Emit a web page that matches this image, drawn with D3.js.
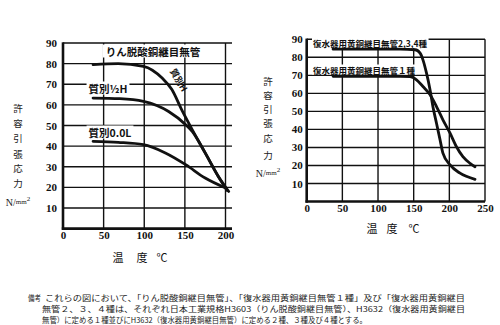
<!DOCTYPE html>
<html><head><meta charset="utf-8">
<script src="https://cdn.jsdelivr.net/npm/d3@7"></script>
<style>body{margin:0;background:#fff}</style>
</head><body>
<svg id="c" width="500" height="325"></svg>
<script>
// ---- data ----
const leftXTicks = [0, 50, 100, 150, 200];
const leftYTicks = [10, 20, 30, 40, 50, 60, 70, 80, 90];
const rightXTicks = [0, 50, 100, 150, 200, 250];
const rightYTicks = [10, 20, 30, 40, 50, 60, 70, 80, 90];

const tempH = [37, 68, 99, 122, 134, 146, 159, 175, 191, 204];
const stressH = [79.5, 80, 78.7, 73, 67.4, 57.7, 48, 36.7, 25.4, 18];
const tempHalfH = [37, 70, 99, 130, 151, 159, 175, 191, 202];
const stressHalfH = [63.3, 63, 61.7, 56.8, 50.4, 47.1, 36.7, 25.4, 18.5];
const tempOL = [37, 68, 99, 126, 151, 175, 200];
const stressOL = [42.3, 41.8, 40.7, 36.7, 31, 24.5, 19.7];

const temp234 = [37, 100, 131, 152, 159, 163, 168, 173, 177, 182, 187, 191, 201, 215, 236];
const stress234 = [84.5, 84.5, 84.5, 84.2, 82.3, 78.6, 71.2, 61.9, 52.6, 43.4, 34.2, 26.8, 20.3, 15.7, 12.3];
const temp1 = [37, 100, 131, 145, 154, 163, 173, 182, 191, 201, 210, 219, 229, 236];
const stress1 = [69.5, 69.5, 69.5, 69.3, 67.5, 63.8, 59.2, 52.7, 45.3, 37.9, 30.4, 24.9, 21.2, 19.3];

const yLabelChars = ["許", "容", "引", "張", "応", "力"];
const xTitleChars = ["温", "度", "℃"];
const leftTitle = "りん脱酸銅継目無管";
const labelH = "質別H", labelHalfH = "質別½H", labelOL = "質別0.0L";
const label234 = "復水器用黄銅継目無管2,3,4種";
const label1 = "復水器用黄銅継目無管１種";
const noteHead = "備考";
const noteLines = [
  "これらの図において、「りん脱酸銅継目無管」、「復水器用黄銅継目無管１種」及び「復水器用黄銅継目",
  "無管２、３、４種は、それぞれ日本工業規格H3603（りん脱酸銅継目無管）、H3632（復水器用黄銅継目",
  "無管）に定める１種並びにH3632（復水器用黄銅継目無管）に定める２種、３種及び４種とする。"
];

// ---- drawing ----
const svg = d3.select("#c");
const CJK = "'Noto Sans CJK JP', sans-serif";
const NUM = "'Liberation Serif', serif";

function panel(cfg) {
  const g = svg.append("g");
  const x = d3.scaleLinear().domain(cfg.xDomain).range(cfg.xRange);
  const y = d3.scaleLinear().domain([0, 90]).range(cfg.yRange);
  const [x0, x1] = cfg.xRange, [y0, y1] = cfg.yRange;
  g.selectAll(".hg").data(cfg.yTicks).enter().append("line")
    .attr("x1", x0).attr("x2", x1).attr("y1", d => y(d)).attr("y2", d => y(d))
    .attr("stroke", "#111").attr("stroke-width", 1.4);
  g.selectAll(".vg").data(cfg.xTicks.filter(d => d > 0)).enter().append("line")
    .attr("x1", d => x(d)).attr("x2", d => x(d)).attr("y1", y0).attr("y2", y1)
    .attr("stroke", "#111").attr("stroke-width", 1.4);
  const ya = d3.axisLeft(y).tickValues(cfg.yTicks).tickSize(0).tickPadding(cfg.yPad);
  const ga = g.append("g").attr("transform", `translate(${x0},0)`).call(ya)
    .attr("font-family", NUM);
  ga.select(".domain").remove();
  ga.selectAll("text").attr("font-weight", "bold").attr("font-size", 11).attr("fill", "#111");
  const xa = d3.axisBottom(x).tickValues(cfg.xTicks).tickSize(0).tickPadding(cfg.xPad);
  const gx = g.append("g").attr("transform", `translate(0,${y0})`).call(xa)
    .attr("font-family", NUM);
  gx.select(".domain").remove();
  gx.selectAll("text").attr("font-weight", "bold").attr("font-size", 11).attr("fill", "#111");
  g.append("line").attr("x1", x0).attr("x2", x0).attr("y1", y1 - 0.7).attr("y2", y0 + 1.2)
    .attr("stroke", "#111").attr("stroke-width", 2.6);
  g.append("line").attr("x1", x0 - 1.2).attr("x2", x1).attr("y1", y0).attr("y2", y0)
    .attr("stroke", "#111").attr("stroke-width", 2.6);
  cfg.yLabY.forEach((yy, i) => {
    g.append("text").attr("x", cfg.yLabX).attr("y", yy).text(yLabelChars[i])
      .attr("text-anchor", "middle").attr("dominant-baseline", "central")
      .attr("font-family", CJK).attr("font-size", 9.5).attr("fill", "#222");
  });
  const u = g.append("text").attr("x", cfg.yLabX).attr("y", cfg.unitY)
    .attr("text-anchor", "middle").attr("dominant-baseline", "central")
    .attr("font-family", NUM).attr("font-size", 10).attr("fill", "#222");
  u.append("tspan").text("N/");
  u.append("tspan").attr("font-size", 7).text("mm");
  u.append("tspan").attr("font-size", 7).attr("dy", -3).text("2");
  cfg.titleX.forEach((xx, i) => {
    g.append("text").attr("x", xx).attr("y", cfg.titleY).text(xTitleChars[i])
      .attr("text-anchor", "middle").attr("dominant-baseline", "central")
      .attr("font-family", CJK).attr("font-size", 11).attr("fill", "#111");
  });
  return {g, x, y};
}

function boxedLabel(g, txt, px, py, size, anchor, pad, rot) {
  const t = g.append("g").attr("transform", `translate(${px},${py}) rotate(${rot || 0})`);
  const r = t.append("rect").attr("fill", "#fff");
  const tx = t.append("text").text(txt).attr("text-anchor", anchor)
    .attr("dominant-baseline", "central").attr("font-family", CJK)
    .attr("font-size", size).attr("fill", "#111").attr("font-weight", "bold");
  const b = tx.node().getBBox();
  r.attr("x", b.x - pad).attr("y", b.y + 1).attr("width", b.width + 2 * pad).attr("height", b.height - 2);
  return t;
}

function curve(p, xs, ys) {
  const line = d3.line().x(d => p.x(d[0])).y(d => p.y(d[1])).curve(d3.curveMonotoneX);
  p.g.append("path").datum(d3.zip(xs, ys)).attr("d", line)
    .attr("fill", "none").attr("stroke", "#111").attr("stroke-width", 2.8)
    .attr("stroke-linecap", "round").attr("stroke-linejoin", "round");
}

// left panel
const L = panel({
  xDomain: [0, 208], xRange: [63, 232], yRange: [228.6, 43],
  xTicks: leftXTicks, yTicks: leftYTicks, yPad: 6, xPad: 3,
  yLabX: 18, yLabY: [108, 123, 138, 154, 168, 183], unitY: 202,
  titleX: [118, 142, 162], titleY: 257
});
boxedLabel(L.g, leftTitle, 153, 51, 10.5, "middle", 3);
boxedLabel(L.g, labelHalfH, 108, 88, 10.5, "middle", 2);
boxedLabel(L.g, labelOL, 110, 132, 10.5, "middle", 2);
curve(L, tempH, stressH);
curve(L, tempHalfH, stressHalfH);
curve(L, tempOL, stressOL);
L.g.append("text").text(labelH).attr("transform", "translate(179,80) rotate(60)")
  .attr("text-anchor", "middle").attr("dominant-baseline", "central")
  .attr("font-family", CJK).attr("font-size", 9).attr("font-weight", "bold").attr("fill", "#111");

// right panel
const R = panel({
  xDomain: [0, 250], xRange: [306.7, 485], yRange: [201.5, 39.3],
  xTicks: rightXTicks, yTicks: rightYTicks, yPad: 4, xPad: 3,
  yLabX: 268, yLabY: [81, 95, 109, 123, 138, 155], unitY: 173,
  titleX: [372, 392, 414], titleY: 228
});
boxedLabel(R.g, label234, 313, 43, 8.5, "start", 1);
boxedLabel(R.g, label1, 313, 69.5, 8.5, "start", 1);
curve(R, temp234, stress234);
curve(R, temp1, stress1);

// note
const noteFont = 7.7;
svg.append("text").attr("x", 28).attr("y", 297.5).text(noteHead)
  .attr("dominant-baseline", "central").attr("font-family", CJK).attr("font-size", noteFont)
  .attr("textLength", 13).attr("lengthAdjust", "spacingAndGlyphs").attr("fill", "#222");
const noteX = [45, 42, 42], noteY = [297.5, 308.7, 319.9], noteW = [420, 423, 325];
noteLines.forEach((s, i) => {
  svg.append("text").attr("x", noteX[i]).attr("y", noteY[i]).text(s)
    .attr("dominant-baseline", "central").attr("font-family", CJK).attr("font-size", noteFont)
    .attr("textLength", noteW[i]).attr("lengthAdjust", "spacingAndGlyphs").attr("fill", "#222");
});
</script>
</body></html>
